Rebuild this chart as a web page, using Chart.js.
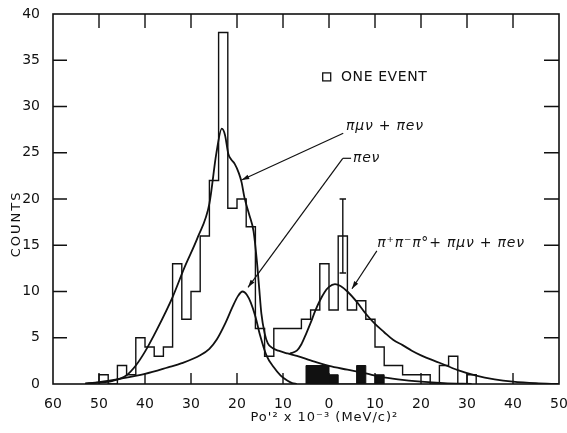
<!DOCTYPE html>
<html>
<head>
<meta charset="utf-8">
<script src="https://cdn.jsdelivr.net/npm/chart.js@4.4.1/dist/chart.umd.min.js"></script>
<style>
  html, body { margin: 0; padding: 0; background: #fff; }
  #wrap { width: 567px; height: 433px; }
</style>
</head>
<body>
<div id="wrap"><canvas id="counts-chart" width="567" height="433"></canvas></div>
<script>
// x is P0'^2 in units of 10^3 (MeV/c)^2, positive values drawn to the left as negative
const xTicks = [-60, -50, -40, -30, -20, -10, 0, 10, 20, 30, 40, 50];
const yTicks = [0, 5, 10, 15, 20, 25, 30, 35, 40];

// histogram bins (left edge, count), each bin 2 wide
const binEdges = [-50, -48, -46, -44, -42, -40, -38, -36, -34, -32, -30, -28, -26, -24, -22, -20,
  -18, -16, -14, -12, -10, -8, -6, -4, -2, 0, 2, 4, 6, 8, 10, 12, 14, 16, 18, 20, 22, 24, 26, 28, 30];
const binCounts = [1, 0, 2, 1, 5, 4, 3, 4, 13, 7, 10, 16, 22, 38, 19, 20,
  17, 6, 3, 6, 6, 6, 7, 8, 13, 8, 16, 8, 9, 7, 4, 2, 2, 1, 1, 1, 0, 2, 3, 0, 1];
const lastEdge = 32;

// filled (black) events
const eventEdges = [-5, 0, 2, 6, 8, 10, 12];
const eventCounts = [2, 1, 0, 2, 0, 1, 0];

// error bar on the 2..4 bin
const errX = 3, errLow = 12, errHigh = 20, errCap = 0.7;

// fitted curves
const pimunuX = [-53, -50, -47, -44, -42, -40, -37.5, -34, -31.5, -28.5, -26, -24.5, -23.3, -22.6, -21.9,
  -21.3, -20.5, -19.6, -19, -18.4, -17.4, -16.4, -15.7, -15.2, -14.7, -14, -13.3, -12.3, -11, -9, -7, -4,
  0, 4, 8, 11, 15, 20, 25, 31];
const pimunuY = [0.05, 0.15, 0.35, 0.95, 2.0, 3.5, 5.8, 9.4, 12.5, 15.9, 19.5, 24.9, 27.6, 26.9, 24.9,
  24.3, 23.8, 22.8, 21.8, 20.2, 18.4, 16.5, 13.4, 10.5, 7.6, 5.5, 4.4, 3.9, 3.6, 3.3, 3.05, 2.55,
  1.95, 1.55, 1.15, 0.8, 0.5, 0.25, 0.1, 0.02];

const pienuX = [-53, -50, -45, -40, -35, -32, -28, -26, -24.4, -22.5, -21, -19.8, -18.8, -17.8, -17, -16,
  -15, -13.6, -12, -10.5, -9, -8, -7];
const pienuY = [0.05, 0.2, 0.6, 1.1, 1.8, 2.25, 3.1, 3.8, 4.8, 6.6, 8.3, 9.5, 10.0, 9.6, 8.8, 7.3,
  5.3, 3.1, 1.8, 0.9, 0.35, 0.1, 0];

const threePiX = [-8.5, -7, -6, -5, -4, -3, -2, -1, 0, 1.3, 2.5, 4, 6, 8, 10, 12, 14, 16, 18, 20, 24,
  28, 32, 36, 40, 45, 50];
const threePiY = [3.3, 3.6, 4.3, 5.4, 6.6, 7.9, 9.0, 9.9, 10.5, 10.8, 10.6, 10.0, 8.9, 7.6, 6.5, 5.6,
  4.75, 4.2, 3.6, 3.1, 2.3, 1.5, 0.9, 0.5, 0.25, 0.08, 0];

const ink = '#111';

const toPoints = (xs, ys) => xs.map((x, i) => ({ x, y: ys[i] }));

function stepPoints(edges, counts, end) {
  const pts = [{ x: edges[0], y: 0 }];
  edges.forEach((e, i) => pts.push({ x: e, y: counts[i] }));
  pts.push({ x: end, y: counts[counts.length - 1] });
  pts.push({ x: end, y: 0 });
  return pts;
}

const curve = (xs, ys) => ({
  data: toPoints(xs, ys),
  borderColor: ink,
  borderWidth: 1.8,
  pointRadius: 0,
  cubicInterpolationMode: 'monotone',
  fill: false,
});

function arrow(ctx, x0, y0, x1, y1) {
  ctx.beginPath();
  ctx.moveTo(x0, y0);
  ctx.lineTo(x1, y1);
  ctx.stroke();
  const a = Math.atan2(y1 - y0, x1 - x0);
  ctx.beginPath();
  ctx.moveTo(x1, y1);
  ctx.lineTo(x1 - 8 * Math.cos(a - 0.3), y1 - 8 * Math.sin(a - 0.3));
  ctx.lineTo(x1 - 8 * Math.cos(a + 0.3), y1 - 8 * Math.sin(a + 0.3));
  ctx.closePath();
  ctx.fill();
}

// frame, inward ticks, labels and leader lines (positions in data units)
const decorations = {
  id: 'decorations',
  afterDraw(chart) {
    const { ctx, chartArea: a, scales: { x, y } } = chart;
    const X = v => x.getPixelForValue(v);
    const Y = v => y.getPixelForValue(v);
    ctx.save();
    ctx.strokeStyle = ink;
    ctx.fillStyle = ink;

    ctx.lineWidth = 1.6;
    ctx.strokeRect(a.left, a.top, a.right - a.left, a.bottom - a.top);

    ctx.lineWidth = 1.4;
    ctx.beginPath();
    xTicks.forEach(v => {
      if (v <= x.min || v >= x.max) return;
      ctx.moveTo(X(v), a.top); ctx.lineTo(X(v), a.top + 14);
      ctx.moveTo(X(v), a.bottom); ctx.lineTo(X(v), a.bottom - 11);
    });
    yTicks.forEach(v => {
      if (v <= y.min || v >= y.max) return;
      ctx.moveTo(a.left, Y(v)); ctx.lineTo(a.left + 14, Y(v));
      ctx.moveTo(a.right, Y(v)); ctx.lineTo(a.right - 15, Y(v));
    });
    ctx.stroke();

    // legend
    ctx.lineWidth = 1.3;
    ctx.strokeRect(X(-0.5) - 4, Y(33.2) - 4, 8, 8);
    ctx.font = '14px "DejaVu Sans"';
    ctx.letterSpacing = '0.6px';
    ctx.textBaseline = 'middle';
    ctx.textAlign = 'left';
    ctx.fillText('ONE EVENT', X(2.6), Y(33.2));

    // curve labels
    ctx.font = 'italic 14px "DejaVu Sans"';
    ctx.letterSpacing = '0.8px';
    ctx.fillText('πμν + πeν', X(3.7), Y(27.9));
    ctx.fillText('πeν', X(5.2), Y(24.4));
    ctx.fillText('π⁺π⁻π°+ πμν + πeν', X(10.5), Y(15.2));

    ctx.lineWidth = 1.2;
    arrow(ctx, X(3.1), Y(27.1), X(-19.0), Y(22.05));
    ctx.beginPath();
    ctx.moveTo(X(4.8), Y(24.4));
    ctx.lineTo(X(3.0), Y(24.4));
    ctx.stroke();
    arrow(ctx, X(3.0), Y(24.4), X(-17.6), Y(10.45));
    arrow(ctx, X(10.4), Y(14.4), X(5.0), Y(10.3));

    // axis titles
    ctx.font = '13px "DejaVu Sans"';
    ctx.letterSpacing = '2px';
    ctx.textAlign = 'center';
    ctx.save();
    ctx.translate(a.left - 36, Y(17.3));
    ctx.rotate(-Math.PI / 2);
    ctx.fillText('COUNTS', 0, 0);
    ctx.restore();

    ctx.letterSpacing = '1px';
    ctx.fillText("Po'² x 10⁻³ (MeV/c)²", X(-1), a.bottom + 34);
    ctx.restore();
  }
};

new Chart(document.getElementById('counts-chart'), {
  type: 'line',
  data: {
    datasets: [
      {
        data: stepPoints(binEdges, binCounts, lastEdge),
        stepped: 'before',
        borderColor: ink,
        borderWidth: 1.4,
        pointRadius: 0,
        fill: false,
      },
      {
        data: stepPoints(eventEdges, eventCounts, eventEdges[eventEdges.length - 1]),
        stepped: 'before',
        borderColor: ink,
        borderWidth: 1,
        backgroundColor: ink,
        pointRadius: 0,
        fill: 'origin',
      },
      {
        data: [
          { x: errX - errCap, y: errHigh }, { x: errX + errCap, y: errHigh }, { x: errX, y: null },
          { x: errX, y: errHigh }, { x: errX, y: errLow }, { x: errX, y: null },
          { x: errX - errCap, y: errLow }, { x: errX + errCap, y: errLow },
        ],
        borderColor: ink,
        borderWidth: 1.4,
        pointRadius: 0,
        spanGaps: false,
        fill: false,
      },
      curve(pimunuX, pimunuY),
      curve(pienuX, pienuY),
      curve(threePiX, threePiY),
    ]
  },
  options: {
    responsive: false,
    animation: false,
    layout: { padding: { top: 14, right: 8, left: 0, bottom: 0 } },
    plugins: { legend: { display: false }, tooltip: { enabled: false } },
    scales: {
      x: {
        type: 'linear',
        min: -60,
        max: 50,
        afterFit: s => { s.height = 49; s.paddingLeft = 0; s.paddingRight = 0; },
        afterBuildTicks: s => { s.ticks = xTicks.map(value => ({ value })); },
        grid: { display: false },
        border: { display: false },
        ticks: {
          color: ink,
          padding: 4,
          maxRotation: 0,
          font: { family: 'DejaVu Sans', size: 14 },
          callback: v => Math.abs(v),
        }
      },
      y: {
        min: 0,
        max: 40,
        afterFit: s => { s.width = 53; s.paddingTop = 0; s.paddingBottom = 0; },
        afterBuildTicks: s => { s.ticks = yTicks.map(value => ({ value })); },
        grid: { display: false },
        border: { display: false },
        ticks: {
          color: ink,
          padding: 5,
          font: { family: 'DejaVu Sans', size: 14 },
        }
      }
    }
  },
  plugins: [decorations]
});
</script>
</body>
</html>
